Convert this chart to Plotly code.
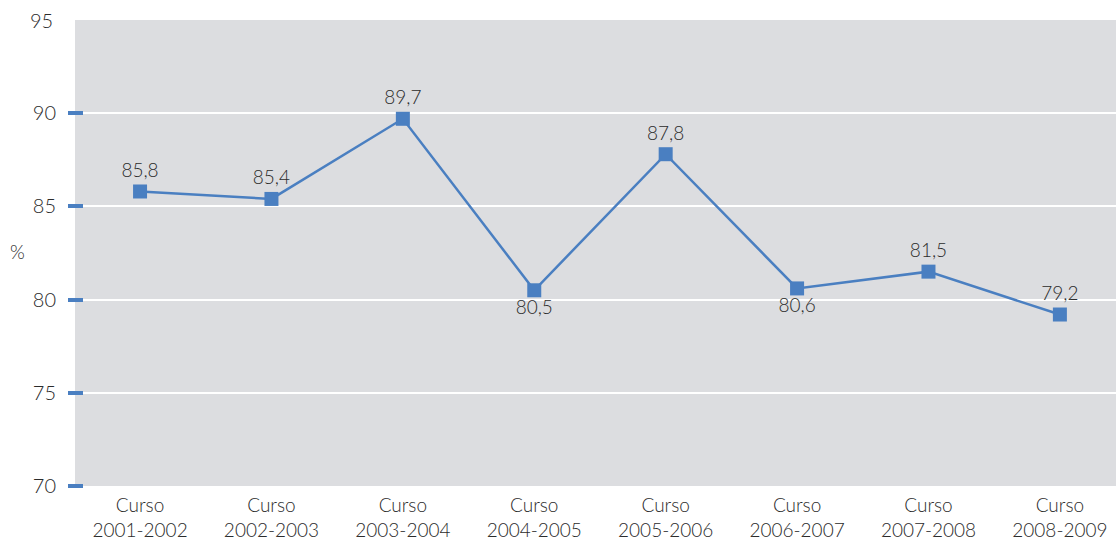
import plotly.graph_objects as go

categories = ["Curso<br>2001-2002", "Curso<br>2002-2003", "Curso<br>2003-2004", "Curso<br>2004-2005",
              "Curso<br>2005-2006", "Curso<br>2006-2007", "Curso<br>2007-2008", "Curso<br>2008-2009"]
values = [85.8, 85.4, 89.7, 80.5, 87.8, 80.6, 81.5, 79.2]
label_pos = ["top center", "top center", "top center", "bottom center",
             "top center", "bottom center", "top center", "top center"]
y_ticks = [70, 75, 80, 85, 90]
y_top = 95

blue = "#4a7fc1"
font_fam = "Lato, 'Open Sans', sans-serif"
txt = "#2b2b2b"

fig = go.Figure()
fig.add_trace(go.Scatter(
    x=categories, y=values, mode="lines+markers+text",
    line=dict(color=blue, width=2.5),
    marker=dict(symbol="square", size=14, color=blue),
    text=[f"{v:.1f}".replace(".", ",") for v in values],
    textposition=label_pos,
    textfont=dict(family=font_fam, size=19, color=txt, weight=300),
    cliponaxis=False,
    showlegend=False,
    hoverinfo="skip",
))

fig.update_layout(
    width=1116, height=540,
    margin=dict(l=75, r=0, t=20, b=54),
    paper_bgcolor="white",
    plot_bgcolor="#dcdde0",
    font=dict(family=font_fam, size=19, color=txt, weight=300),
    xaxis=dict(
        type="category", showgrid=False, zeroline=False, showline=False,
        ticks="", tickfont=dict(size=19, color=txt, weight=300), domain=[0, 1],
        range=[-0.495, 7.427], ticklabelstandoff=6,
        automargin=False,
    ),
    yaxis=dict(
        range=[70, 95], tickvals=y_ticks, showgrid=True, gridcolor="white",
        gridwidth=1.5, zeroline=False, showline=False,
        ticks="outside", ticklen=15, tickwidth=4, tickcolor=blue,
        anchor="free", position=0.0077,
        ticklabelstandoff=8, automargin=False,
        tickfont=dict(size=20, color=txt, weight=300),
    ),
    annotations=[
        dict(text=str(y_top), xref="paper", yref="y", x=-0.0195, y=y_top,
             xanchor="right", yanchor="middle", showarrow=False,
             font=dict(size=20, color=txt, family=font_fam, weight=300)),
        dict(text="%", xref="paper", yref="paper", x=-0.0555, y=0.503,
             xanchor="center", yanchor="middle", showarrow=False,
             font=dict(size=19, color=txt, family=font_fam, weight=300)),
    ],
)

fig.write_html("out.html", config={"displayModeBar": False},
               post_script="document.body.style.margin='0';document.body.style.overflow='hidden';")
